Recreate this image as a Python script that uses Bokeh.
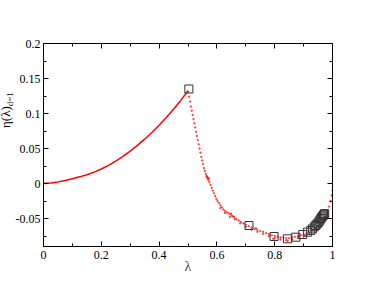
from bokeh.plotting import figure
from bokeh.layouts import row
from bokeh.models import Range1d, FixedTicker, LinearAxis, Div
from bokeh.embed import file_html
from bokeh.resources import INLINE

# smooth branch (lambda <= 0.5)
curve_x = [0.0, 0.025, 0.05, 0.075, 0.1, 0.125, 0.15, 0.175, 0.2, 0.225, 0.25,
           0.275, 0.3, 0.325, 0.35, 0.375, 0.4, 0.425, 0.45, 0.475, 0.5]
curve_y = [0.0, 0.0007, 0.0023, 0.0044, 0.0068, 0.0095, 0.0126, 0.0162, 0.0207, 0.0259, 0.0319,
           0.0387, 0.0462, 0.0544, 0.0633, 0.0729, 0.0832, 0.0942, 0.1060, 0.1187, 0.1325]

# scattered branch (lambda > 0.5)
scat_x = [0.501, 0.504, 0.507, 0.510, 0.513, 0.516, 0.519, 0.522, 0.525, 0.528,
          0.531, 0.534, 0.537, 0.540, 0.543, 0.546, 0.549, 0.552, 0.555, 0.558,
          0.561, 0.564, 0.567, 0.570, 0.574, 0.578, 0.582, 0.586, 0.590, 0.594,
          0.598, 0.602, 0.607, 0.612, 0.617, 0.622, 0.628, 0.634, 0.640, 0.646,
          0.652, 0.660, 0.668, 0.676, 0.684, 0.692, 0.700, 0.710, 0.720, 0.730,
          0.740, 0.750, 0.760, 0.770, 0.780, 0.790, 0.800, 0.810, 0.820, 0.830,
          0.840, 0.850, 0.860, 0.870, 0.880, 0.890, 0.900, 0.910, 0.920, 0.930,
          0.940, 0.950, 0.960, 0.968, 0.975, 0.982, 0.988, 0.993, 0.997, 1.000,
          0.612, 0.628, 0.645, 0.662, 0.680, 0.700, 0.720, 0.740, 0.760, 0.780,
          0.800, 0.820, 0.840, 0.860, 0.880, 0.900, 0.920, 0.940, 0.958,
          0.565, 0.569, 0.572, 0.649, 0.656, 0.735, 0.795, 0.845, 0.905]
scat_y = [0.131, 0.124, 0.117, 0.110, 0.104, 0.098, 0.092, 0.086, 0.080, 0.074,
          0.068, 0.062, 0.056, 0.050, 0.044, 0.038, 0.033, 0.028, 0.022, 0.018,
          0.014, 0.011, 0.008, 0.005, 0.002, -0.002, -0.006, -0.010, -0.014, -0.018,
          -0.022, -0.025, -0.028, -0.031, -0.034, -0.037, -0.039, -0.041, -0.042, -0.044,
          -0.046, -0.048, -0.051, -0.053, -0.055, -0.057, -0.059, -0.061, -0.063, -0.065,
          -0.066, -0.068, -0.069, -0.071, -0.072, -0.074, -0.075, -0.076, -0.077, -0.077,
          -0.078, -0.078, -0.077, -0.076, -0.075, -0.074, -0.073, -0.071, -0.069, -0.067,
          -0.064, -0.061, -0.057, -0.053, -0.048, -0.041, -0.033, -0.025, -0.017, -0.010,
          -0.035, -0.042, -0.048, -0.051, -0.057, -0.062, -0.066, -0.069, -0.072, -0.075,
          -0.078, -0.080, -0.081, -0.080, -0.078, -0.076, -0.072, -0.067, -0.061,
          0.010, 0.008, 0.007, -0.043, -0.047, -0.064, -0.079, -0.082, -0.074]

# open squares
sq_x = [0.503, 0.711, 0.798, 0.844, 0.873, 0.897, 0.914, 0.925, 0.931, 0.937,
        0.942, 0.946, 0.950, 0.954, 0.957, 0.960, 0.963, 0.966, 0.969, 0.971, 0.973]
sq_y = [0.135, -0.060, -0.0757, -0.079, -0.0767, -0.0729, -0.0695, -0.067, -0.0648, -0.062,
        -0.060, -0.058, -0.0565, -0.054, -0.052, -0.050, -0.048, -0.0465, -0.045, -0.044, -0.043]

x_ticks = [0, 0.2, 0.4, 0.6, 0.8, 1.0]
x_labels = ["0", "0.2", "0.4", "0.6", "0.8", "1"]
x_minor = [0.1, 0.3, 0.5, 0.7, 0.9]
y_ticks = [-0.05, 0, 0.05, 0.1, 0.15, 0.2]
y_labels = ["-0.05", "0", "0.05", "0.1", "0.15", "0.2"]
y_minor = [-0.075, -0.025, 0.025, 0.075, 0.125, 0.175]
x_title = "λ"
y_title = "η(λ)"
y_title_sub = "d=1"

FONT = "Liberation Serif"
H = 292
LW = 12  # width of the strip that holds the y-axis title

p = figure(width=380 - LW, height=H, output_backend="svg", toolbar_location=None,
           x_range=Range1d(0, 1), y_range=Range1d(-0.09, 0.2),
           min_border_left=43 - LW, min_border_right=48, min_border_top=43, min_border_bottom=46,
           x_axis_location=None, y_axis_location=None)
p.xgrid.visible = False
p.ygrid.visible = False
p.outline_line_color = "black"
p.outline_line_width = 1
p.background_fill_color = "white"
p.border_fill_alpha = 0

def style(ax, labels, standoff):
    ax.major_tick_in = 5
    ax.major_tick_out = 0
    ax.minor_tick_in = 3
    ax.minor_tick_out = 0
    ax.axis_line_color = "black"
    ax.major_tick_line_color = "black"
    ax.minor_tick_line_color = "black"
    ax.major_label_text_font = FONT
    ax.major_label_text_font_size = "12px"
    ax.major_label_text_color = "black"
    ax.major_label_standoff = standoff
    ax.major_label_overrides = labels

xl = {t: l for t, l in zip(x_ticks, x_labels)}
yl = {t: l for t, l in zip(y_ticks, y_labels)}
x_blank = {t: "" for t in x_ticks}
y_blank = {t: "" for t in y_ticks}

xb = LinearAxis(ticker=FixedTicker(ticks=x_ticks, minor_ticks=x_minor))
style(xb, xl, 4)
xb.axis_label = x_title
xb.axis_label_text_font = FONT
xb.axis_label_text_font_style = "normal"
xb.axis_label_text_font_size = "14px"
xb.axis_label_standoff = -3
p.add_layout(xb, "below")
xt = LinearAxis(ticker=FixedTicker(ticks=x_ticks, minor_ticks=x_minor))
style(xt, x_blank, 4)
p.add_layout(xt, "above")
yleft = LinearAxis(ticker=FixedTicker(ticks=y_ticks, minor_ticks=y_minor))
style(yleft, yl, 3)
p.add_layout(yleft, "left")
yr = LinearAxis(ticker=FixedTicker(ticks=y_ticks, minor_ticks=y_minor))
style(yr, y_blank, 3)
p.add_layout(yr, "right")

p.line(curve_x, curve_y, line_color="red", line_width=1.5)
p.scatter(scat_x, scat_y, size=1.5, color="red", alpha=0.6, marker="circle")
p.scatter(sq_x, sq_y, marker="square", size=8, fill_color=None,
          line_color="#333333", line_width=1)

# rotated y-axis title in a narrow strip on the left
title_html = (
    '<div style="position:absolute;left:0px;top:128px;transform:rotate(-90deg);'
    "transform-origin:0 0;font-family:'Liberation Serif',serif;font-size:13px;"
    'line-height:12px;height:12px;white-space:nowrap;color:black">'
    + y_title
    + '<span style="font-size:9px;line-height:0;vertical-align:-3px">'
    + y_title_sub + '</span></div>'
)
t = Div(text=title_html, width=LW, height=H, margin=0, styles={"overflow": "visible"})

layout = row(t, p, spacing=0)
open("out.html", "w").write(file_html(layout, INLINE))
